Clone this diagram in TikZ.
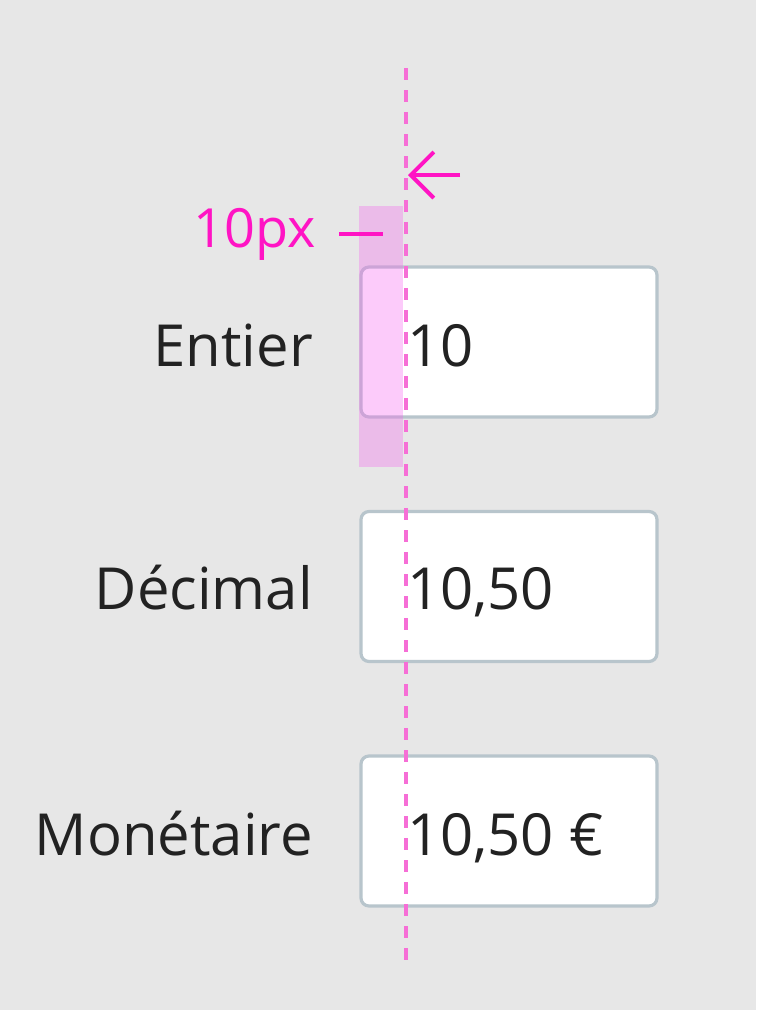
\documentclass[tikz,border=0pt]{standalone}
\usepackage{fontspec}
\setmainfont{Open Sans}
\usetikzlibrary{arrows.meta, positioning}
\definecolor{canvas}{RGB}{231,231,231}
\definecolor{frame}{RGB}{184,197,204}
\definecolor{ink}{RGB}{34,34,34}
\definecolor{guide}{RGB}{246,110,214}
\definecolor{marker}{RGB}{255,20,196}
\definecolor{zone}{RGB}{246,99,240}
\tikzstyle{field} = [rectangle, draw=frame, line width=3.2pt, fill=white, rounded corners=8pt, minimum width=296pt, minimum height=150pt, inner sep=0pt]
\tikzstyle{fieldname} = [text=ink, inner sep=0pt, anchor=base east, font=\fontsize{58}{64}\selectfont]
\tikzstyle{entry} = [text=ink, inner sep=0pt, anchor=base west, font=\fontsize{58}{64}\selectfont]
\tikzstyle{guideline} = [guide, line width=3.5pt, dash pattern=on 12pt off 10pt]
\tikzstyle{pointer} = [marker, line width=4pt, -{Straight Barb[length=23pt,width=46pt,line width=4pt]}]
\begin{document}
\begin{tikzpicture}[x=1pt, y=-1pt]
		\fill [canvas] (0,0) rectangle (756,1010);
		\useasboundingbox (0,0) rectangle (756,1010);
		\node (EntierBox) [field] at (509,342) {};
		\node (DecimalBox) [field] at (509,586.5) {};
		\node (MonetaireBox) [field] at (509,831) {};
		\node (Entier) [fieldname] at (313,366) {Entier};
		\node (Decimal) [fieldname] at (313,609) {Décimal};
		\node (Monetaire) [fieldname] at (313,855) {Monétaire};
		\node (EntierValue) [entry] at (407,366) {10};
		\node (DecimalValue) [entry] at (407,609) {10,50};
		\node (MonetaireValue) [entry] at (407,855) {10,50 €};
		% marge interne
		\fill [zone, opacity=0.33] (359,206) rectangle (403,467);
		\coordinate (GuideTop) at (406,68);
		\coordinate (GuideBottom) at (406,965);
		\draw [guideline] (GuideTop) -- (GuideBottom);
		\coordinate (PointerStart) at (460,175);
		\coordinate (PointerEnd) at (408,175);
		\draw [pointer] (PointerStart) -- (PointerEnd);
		\node (Padding) [marker, inner sep=0pt, anchor=base east, font=\fontsize{54}{60}\selectfont] at (316,247) {10px};
		\coordinate (TickLeft) at (339,234);
		\coordinate (TickRight) at (383,234);
		\draw [marker, line width=4pt] (TickLeft) -- (TickRight);
	\end{tikzpicture}
\end{document}
